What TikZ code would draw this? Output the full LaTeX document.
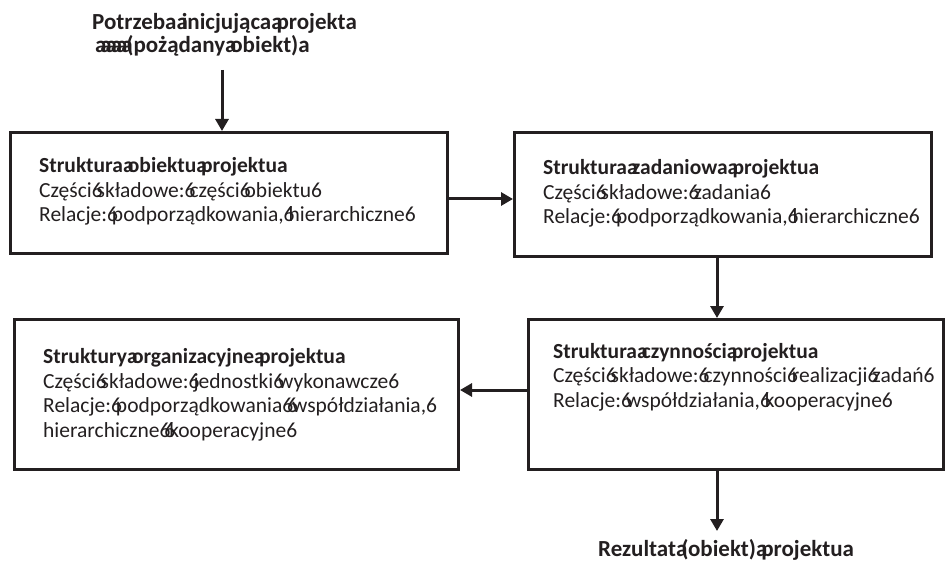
\documentclass[tikz,border=0pt]{standalone}
\usepackage{fontspec}
\setmainfont{Carlito}
\usetikzlibrary{arrows.meta}
\definecolor{ink}{HTML}{231F20}
% a glyph printed in place of an interword space, as wide as the space itself
\newcommand\gl[1]{\makebox[\fontdimen2\font][l]{#1}}
\newcommand\ga{\gl{a}}
\newcommand\gb{\gl{6}}
\tikzset{
  frame/.style={draw=ink, line width=3pt, rectangle, inner sep=0pt, anchor=north west},
  % multi-line texts are placed by the baseline of their last line
  txt/.style={text=ink, inner sep=0pt, anchor=base west, align=left,
              font=\fontsize{21.5}{24.5}\selectfont},
  big/.style={txt, font=\fontsize{23}{23.5}\selectfont\bfseries},
  arr/.style={draw=ink, line width=3pt, -{Triangle[length=12pt,width=13pt]}}
}
\begin{document}
\begin{tikzpicture}[x=1pt,y=-1pt]
\useasboundingbox (0,0) rectangle (950,561);

% boxes
\node[frame, minimum width=437pt, minimum height=121pt] (b1) at (9,131) {};
\node[frame, minimum width=417pt, minimum height=124pt] (b2) at (513,131) {};
\node[frame, minimum width=444pt, minimum height=150pt] (b3) at (13,318) {};
\node[frame, minimum width=415pt, minimum height=150pt] (b4) at (527,318) {};

% texts
\node[big] (need) at (92,53)
  {Potrzeba\ga inicjująca\ga projekt\ga\\\hspace*{3pt}\ga\ga\ga\ga\ga\ga(pożądany\ga obiekt)\ga};
\node[txt] (t1) at (39,222)
  {\textbf{Struktura\ga obiektu\ga projektu\ga}\\
   Części\gb składowe:\gb części\gb obiektu\gb\\
   Relacje:\gb podporządkowania,\gb hierarchiczne\gb};
\node[txt] (t2) at (543,224)
  {\textbf{Struktura\ga zadaniowa\ga projektu\ga}\\
   Części\gb składowe:\gb zadania\gb\\
   Relacje:\gb podporządkowania,\gb hierarchiczne\gb};
\node[txt] (t3) at (43,437)
  {\textbf{Struktury\ga organizacyjne\ga projektu\ga}\\
   Części\gb składowe:\gb jednostki\gb wykonawcze\gb\\
   Relacje:\gb podporządkowania\gb\gb współdziałania,\gb\\
   hierarchiczne\gb\gb kooperacyjne\gb};
\node[txt] (t4) at (553,407)
  {\textbf{Struktura\ga czynności\ga projektu\ga}\\
   Części\gb składowe:\gb czynności\gb realizacji\gb zadań\gb\\
   Relacje:\gb współdziałania,\gb kooperacyjne\gb};
\node[big] (res) at (598,556)
  {Rezultat\ga(obiekt)\ga projektu\ga};

% connectors
\coordinate (s0) at (222,70);
\coordinate (a1) at (0,199);
\coordinate (a2) at (717,0);
\coordinate (a3) at (0,390);
\coordinate (e5) at (717,531);
\draw[arr] (s0) -- (s0 |- b1.north);
\draw[arr] (b1.east |- a1) -- (b2.west |- a1);
\draw[arr] (b2.south -| a2) -- (b4.north -| a2);
\draw[arr] (b4.west |- a3) -- (b3.east |- a3);
\draw[arr] (b4.south -| a2) -- (e5);
\end{tikzpicture}
\end{document}
